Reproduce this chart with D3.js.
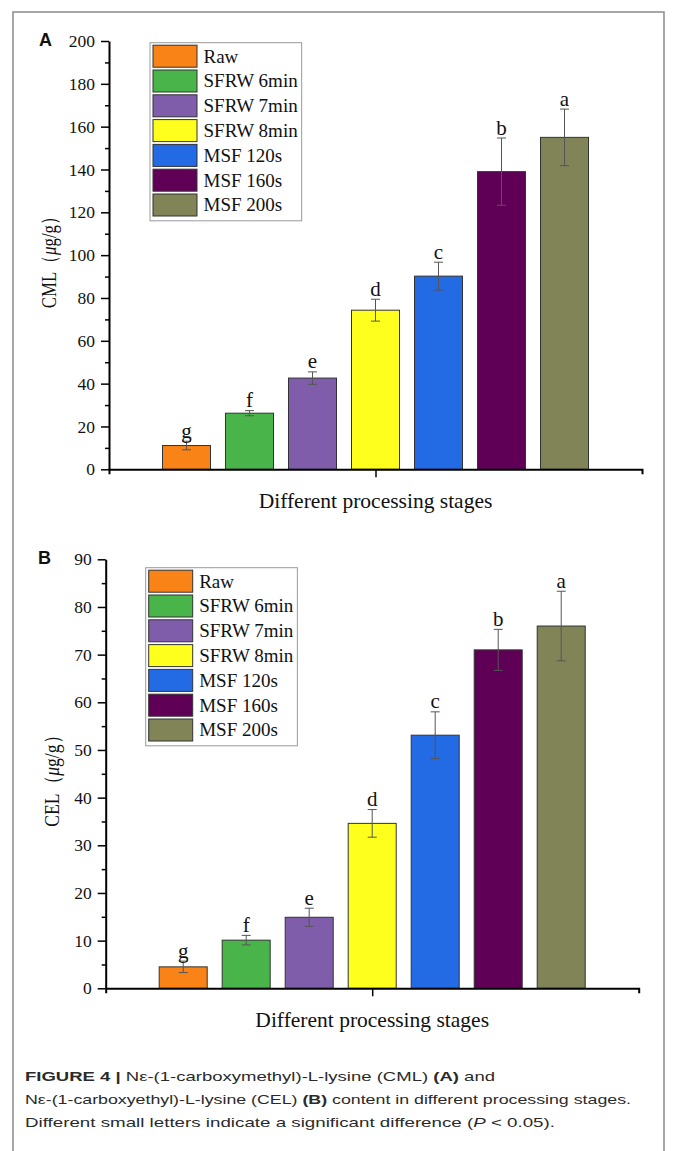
<!DOCTYPE html>
<html>
<head>
<meta charset="utf-8">
<title>Figure 4</title>
<style>
  body { margin: 0; background: #fff; }
  svg text { font-family: "Liberation Serif", "Times New Roman", serif; fill: #111; }
</style>
</head>
<body>
<script src="https://d3js.org/d3.v7.min.js"></script>
<svg id="fig" width="674" height="1151"></svg>
<script>
  // categories + colours
  const stages = ["Raw", "SFRW 6min", "SFRW 7min", "SFRW 8min", "MSF 120s", "MSF 160s", "MSF 200s"]
  const colors = ["#F98317", "#49B449", "#7F5DAB", "#FFFF1E", "#236BE4", "#5F0056", "#808456"]
  const letters = ["g", "f", "e", "d", "c", "b", "a"]

  // panel A: CML (ug/g)
  const cmlValues = [11.1, 26.2, 42.6, 74.3, 90.2, 139.0, 155.0]
  const cmlErrors = [2.0, 1.2, 2.9, 5.1, 6.5, 15.7, 13.2]
  const cmlTicks = [0, 20, 40, 60, 80, 100, 120, 140, 160, 180, 200]

  // panel B: CEL (ug/g)
  const celValues = [4.5, 10.1, 14.9, 34.6, 53.1, 71.0, 76.0]
  const celErrors = [1.2, 1.0, 1.9, 2.9, 4.9, 4.3, 7.3]
  const celTicks = [0, 10, 20, 30, 40, 50, 60, 70, 80, 90]

  const svg = d3.select('#fig')

  // outer frame of the figure
  svg.append('path')
    .attr('d', 'M13,1151 V12 H664 V1151')
    .attr('fill', 'none')
    .attr('stroke', '#8a8a8a')
    .attr('stroke-width', 1.5)

  function drawPanel(p) {
    const x = d3.scaleBand().domain(stages)
      .range([p.left, p.right])
      .paddingInner(0.238)
      .paddingOuter(0.849)
    const y = d3.scaleLinear().domain([0, p.max]).range([p.bottom, p.top])
    const g = svg.append('g')

    // bars
    g.selectAll('rect.bar')
      .data(stages)
      .join('rect')
      .attr('class', 'bar')
      .attr('x', d => x(d))
      .attr('y', (d, i) => y(p.values[i]))
      .attr('width', x.bandwidth())
      .attr('height', (d, i) => y(0) - y(p.values[i]))
      .attr('fill', (d, i) => colors[i])
      .attr('stroke', '#333')
      .attr('stroke-width', 1)

    // error bars
    const err = g.selectAll('g.err')
      .data(stages)
      .join('g')
      .attr('class', 'err')
      .attr('stroke', '#555')
      .attr('stroke-width', 1)
    const cx = d => x(d) + x.bandwidth() / 2
    err.append('line')
      .attr('x1', cx).attr('x2', cx)
      .attr('y1', (d, i) => y(p.values[i] + p.errors[i]))
      .attr('y2', (d, i) => y(p.values[i] - p.errors[i]))
    err.append('line')
      .attr('x1', d => cx(d) - 4.5).attr('x2', d => cx(d) + 4.5)
      .attr('y1', (d, i) => y(p.values[i] + p.errors[i]))
      .attr('y2', (d, i) => y(p.values[i] + p.errors[i]))
    err.append('line')
      .attr('x1', d => cx(d) - 4.5).attr('x2', d => cx(d) + 4.5)
      .attr('y1', (d, i) => y(p.values[i] - p.errors[i]))
      .attr('y2', (d, i) => y(p.values[i] - p.errors[i]))

    // significance letters
    g.selectAll('text.sig')
      .data(stages)
      .join('text')
      .attr('class', 'sig')
      .attr('x', cx)
      .attr('y', (d, i) => y(p.values[i] + p.errors[i]) - 3.5)
      .attr('text-anchor', 'middle')
      .attr('font-size', 21)
      .text((d, i) => letters[i])

    // y axis, major + minor ticks
    const yAxis = g.append('g')
      .attr('transform', `translate(${p.left},0)`)
      .call(d3.axisLeft(y).tickValues(p.ticks).tickSize(8).tickSizeOuter(0).tickPadding(6))
    yAxis.selectAll('text').attr('font-size', 17.5).attr('font-family', null)
    yAxis.select('.domain').attr('stroke-width', 2)
    yAxis.selectAll('.tick line').attr('stroke-width', 1.5)

    const minor = d3.range(p.minor, p.max, p.minor).filter(v => !p.ticks.includes(v))
    g.append('g')
      .attr('transform', `translate(${p.left},0)`)
      .call(d3.axisLeft(y).tickValues(minor).tickSize(4).tickFormat(''))
      .call(a => a.select('.domain').remove())
      .selectAll('.tick line').attr('stroke-width', 1.5)

    // x axis: one tick in the middle, small ticks at both ends
    const xLine = d3.scaleLinear().domain([0, 1]).range([p.left, p.right])
    const xAxis = g.append('g')
      .attr('transform', `translate(0,${p.bottom})`)
      .call(d3.axisBottom(xLine).tickValues([0.5]).tickFormat('').tickSize(8).tickSizeOuter(5))
    xAxis.select('.domain').attr('stroke-width', 2)
    xAxis.selectAll('.tick line').attr('stroke-width', 1.5)

    // axis titles
    g.append('text')
      .attr('x', (p.left + p.right) / 2)
      .attr('y', p.bottom + 39)
      .attr('text-anchor', 'middle')
      .attr('font-size', 21.5)
      .text('Different processing stages')

    const yt = g.append('text')
      .attr('transform', `translate(${p.titleX},${(p.top + p.bottom) / 2 + 3}) rotate(-90)`)
      .attr('text-anchor', 'middle')
      .attr('font-size', 21)
      .attr('textLength', 100)
      .attr('lengthAdjust', 'spacingAndGlyphs')
    yt.append('tspan').text(p.yName + '（')
    yt.append('tspan').attr('font-style', 'italic').text('μ')
    yt.append('tspan').text('g/g）')

    // panel letter
    svg.append('text')
      .attr('x', p.labelX)
      .attr('y', p.labelY)
      .style('font-family', '"Liberation Sans", Arial, sans-serif')
      .attr('font-weight', 'bold')
      .attr('font-size', 18)
      .text(p.label)

    // legend
    const lg = g.append('g').attr('transform', `translate(${p.legX},${p.legY})`)
    const box = lg.append('rect')
      .attr('fill', '#fff')
      .attr('stroke', '#999')
      .attr('stroke-width', 1)
    const row = 24.8
    stages.forEach((s, i) => {
      lg.append('rect')
        .attr('x', 3).attr('y', 2.5 + i * row)
        .attr('width', 44).attr('height', 22)
        .attr('fill', colors[i])
        .attr('stroke', '#333')
        .attr('stroke-width', 1)
    })
    const labels = lg.selectAll('text.leg')
      .data(stages)
      .join('text')
      .attr('class', 'leg')
      .attr('x', 53.5)
      .attr('y', (d, i) => 2.5 + i * row + 17.5)
      .attr('font-size', 19)
      .text(d => d)
    let w = 0
    labels.each(function () { w = Math.max(w, this.getComputedTextLength()) })
    box.attr('x', 0).attr('y', 0)
      .attr('width', 53.5 + w + 4)
      .attr('height', 2.5 + 7 * row + 2)
  }

  drawPanel({
    label: 'A', labelX: 39, labelY: 46,
    left: 109, right: 642, top: 41, bottom: 469.3,
    max: 200, ticks: cmlTicks, minor: 10,
    values: cmlValues, errors: cmlErrors,
    yName: 'CML', titleX: 56,
    legX: 150, legY: 42.7
  })

  drawPanel({
    label: 'B', labelX: 38, labelY: 564,
    left: 105.7, right: 638.7, top: 559.3, bottom: 988.3,
    max: 90, ticks: celTicks, minor: 5,
    values: celValues, errors: celErrors,
    yName: 'CEL', titleX: 59,
    legX: 145.7, legY: 567.7
  })

  // caption
  const cap = svg.append('g')
    .attr('font-size', 13.5)
  const capLines = [
    [['FIGURE 4 | ', 'bold'], ['Nε-(1-carboxymethyl)-L-lysine (CML) ', ''], ['(A)', 'bold'], [' and', '']],
    [['Nε-(1-carboxyethyl)-L-lysine (CEL) ', ''], ['(B)', 'bold'], [' content in different processing stages.', '']],
    [['Different small letters indicate a significant difference (', ''], ['P', 'italic'], [' < 0.05).', '']]
  ]
  const capWidths = [470, 606, 530]
  const capY = [1081, 1104, 1127]
  capLines.forEach((parts, i) => {
    const t = cap.append('text')
      .attr('x', 25).attr('y', capY[i])
      .attr('textLength', capWidths[i])
      .attr('lengthAdjust', 'spacingAndGlyphs')
      .style('font-family', '"Liberation Sans", Arial, sans-serif')
      .style('fill', '#2a2a2a')
    parts.forEach(([s, st]) => {
      const ts = t.append('tspan').text(s)
      if (st === 'bold') ts.attr('font-weight', 'bold')
      if (st === 'italic') ts.attr('font-style', 'italic')
    })
  })
</script>
</body>
</html>
